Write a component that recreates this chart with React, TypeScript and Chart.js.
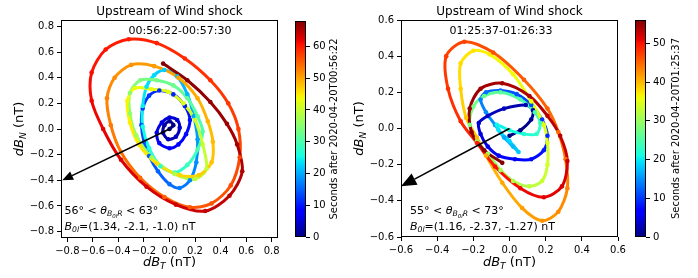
import React, { useEffect, useRef } from 'react';
import { Chart, registerables } from 'chart.js';

Chart.register(...registerables);

const FAMILY = 'DejaVu Sans';

// ---------------- data: left panel (00:56:22-00:57:30) ----------------
const leftTime = [
  0, 0.6, 1.2, 1.8, 2.4, 3.0, 3.6, 4.2, 4.8, 5.4, 6.0, 6.6, 7.2, 7.8, 8.4,
  9.0, 9.6, 10.2, 10.8, 11.4, 12.0, 12.6, 13.2, 13.8, 14.4, 15.0, 15.8,
  16.6, 17.4, 18.2, 19.0, 19.8, 20.6, 21.4, 22.2, 23.0, 23.8, 24.6, 25.4, 26.2, 27.0, 27.8,
  28.6, 29.4, 30.2, 31.0, 31.8, 32.6, 33.4, 34.2, 35.0, 35.8, 36.6, 37.4, 38.2, 39.0,
  39.8, 40.6, 41.2, 41.8, 42.4, 43.0, 43.6, 44.2, 44.8, 45.4, 46.0, 46.6, 47.2,
  47.8, 48.4, 49.0, 49.6, 50.2, 50.8, 51.4, 52.0, 52.6, 53.2, 53.8, 54.4, 55.0, 55.6,
  56.0, 56.5, 57.0, 57.5, 58.0, 58.5, 59.0, 59.5, 60.0, 60.5, 61.0, 61.5, 62.0, 62.5, 63.0, 63.5, 64.0,
  64.6, 65.2, 65.8, 66.4, 67.0, 67.5, 68.0,
];
const leftDBT = [
  0.00, 0.03, 0.00, -0.04, -0.05, -0.01, 0.05, 0.08, 0.06, 0.00, -0.06, -0.10, -0.08, 0.00, 0.07,
  0.13, 0.16, 0.12, 0.03, -0.08, -0.16, -0.21, -0.22, -0.20, -0.16, -0.09, 0.00,
  0.08, 0.16, 0.21, 0.22, 0.19, 0.14, 0.06, -0.04, -0.12, -0.18, -0.21, -0.21, -0.16, -0.07, 0.04,
  0.14, 0.22, 0.26, 0.22, 0.14, 0.03, -0.10, -0.23, -0.31, -0.31, -0.26, -0.14, 0.04, 0.20,
  0.29, 0.26, 0.20, 0.11, -0.01, -0.14, -0.27, -0.33, -0.31, -0.24, -0.10, 0.08, 0.23,
  0.33, 0.34, 0.30, 0.22, 0.07, -0.12, -0.30, -0.43, -0.49, -0.46, -0.38, -0.23, -0.04, 0.16,
  0.33, 0.48, 0.55, 0.54, 0.46, 0.32, 0.12, -0.10, -0.32, -0.50, -0.61, -0.61, -0.52, -0.38, -0.18, 0.05, 0.28,
  0.47, 0.57, 0.53, 0.45, 0.32, 0.14, -0.05,
];
const leftDBN = [
  0.00, 0.03, 0.06, 0.03, -0.03, -0.08, -0.06, 0.01, 0.07, 0.09, 0.05, -0.03, -0.11, -0.15, -0.12,
  -0.04, 0.07, 0.18, 0.27, 0.30, 0.26, 0.16, 0.03, -0.10, -0.21, -0.33, -0.43,
  -0.46, -0.40, -0.26, -0.08, 0.10, 0.27, 0.41, 0.46, 0.42, 0.33, 0.18, 0.02, -0.15, -0.29, -0.34,
  -0.28, -0.16, -0.02, 0.10, 0.24, 0.34, 0.38, 0.38, 0.28, 0.12, -0.05, -0.22, -0.35, -0.39,
  -0.31, -0.12, 0.07, 0.20, 0.29, 0.31, 0.32, 0.22, 0.05, -0.12, -0.27, -0.36, -0.36,
  -0.26, -0.10, 0.06, 0.24, 0.40, 0.49, 0.50, 0.40, 0.24, 0.03, -0.18, -0.38, -0.53, -0.61,
  -0.58, -0.44, -0.22, 0.00, 0.20, 0.38, 0.55, 0.67, 0.70, 0.62, 0.44, 0.22, 0.00, -0.24, -0.45, -0.59, -0.64,
  -0.52, -0.33, -0.12, 0.04, 0.21, 0.38, 0.51,
];
const leftArrowT = [0, -0.84];
const leftArrowN = [0, -0.40];
const leftAxisRange = [-0.85, 0.85];
const leftTicks = [-0.8, -0.6, -0.4, -0.2, 0, 0.2, 0.4, 0.6, 0.8];
const leftColorTicks = [0, 10, 20, 30, 40, 50, 60];
const leftTimeMax = 68;

// ---------------- data: right panel (01:25:37-01:26:33) ----------------
const rightTime = [
  0, 0.6, 1.2, 1.8, 2.4, 3.0, 3.6, 4.2, 4.8,
  5.4, 6.0, 6.8, 7.6, 8.4, 9.2, 10.0, 10.8, 11.6, 12.4, 13.2,
  14.0, 14.8, 15.6, 16.4, 17.2, 18.0,
  18.8, 19.6, 20.4, 21.2, 22.0, 22.8, 23.6, 24.4, 25.2, 26.0, 26.8,
  27.6, 28.4, 29.2, 30.0, 30.8, 31.6, 32.4, 33.2,
  33.8, 34.4, 35.0, 35.6, 36.2, 36.8, 37.4, 38.0, 38.6, 39.2, 39.8, 40.4,
  41.0, 41.6, 42.2, 42.8, 43.4, 44.0, 44.6, 45.2, 45.8, 46.4, 47.0, 47.6, 48.2, 48.8,
  49.4, 50.0, 50.6, 51.2, 51.8, 52.4,
  53.0, 53.4, 53.8, 54.2, 54.6, 55.0, 55.3, 55.6, 56.0,
];
const rightDBT = [
  0.00, 0.06, 0.12, 0.13, 0.09, -0.03, -0.12, -0.17, -0.16,
  -0.12, -0.06, 0.03, 0.12, 0.19, 0.21, 0.18, 0.12, 0.04, -0.05, -0.13,
  -0.16, -0.13, -0.08, -0.03, 0.02, 0.05,
  0.00, -0.06, -0.07, 0.00, 0.08, 0.15, 0.17, 0.14, 0.06, -0.05, -0.14,
  -0.20, -0.22, -0.18, -0.12, -0.05, 0.02, 0.11, 0.18,
  0.21, 0.21, 0.19, 0.12, 0.02, -0.11, -0.20, -0.27, -0.27, -0.24, -0.18, -0.13,
  -0.04, 0.07, 0.18, 0.27, 0.32, 0.31, 0.27, 0.21, 0.08, -0.09, -0.25, -0.35, -0.34, -0.27,
  -0.18, -0.08, 0.06, 0.19, 0.29, 0.32,
  0.28, 0.21, 0.11, -0.04, -0.16, -0.22, -0.21, -0.14, -0.04,
];
const rightDBN = [
  -0.04, -0.01, 0.05, 0.10, 0.13, 0.11, 0.07, 0.03, -0.03,
  -0.10, -0.15, -0.17, -0.17, -0.12, -0.04, 0.05, 0.13, 0.19, 0.21, 0.20,
  0.16, 0.09, 0.02, -0.05, -0.10, -0.13,
  -0.07, -0.01, 0.02, -0.01, -0.03, -0.03, 0.03, 0.09, 0.16, 0.20, 0.18,
  0.12, 0.02, -0.07, -0.14, -0.23, -0.29, -0.32, -0.29,
  -0.20, -0.08, 0.02, 0.15, 0.30, 0.41, 0.43, 0.36, 0.22, 0.06, -0.05, -0.15,
  -0.30, -0.44, -0.51, -0.46, -0.33, -0.17, -0.02, 0.11, 0.27, 0.42, 0.48, 0.40, 0.22, 0.04,
  -0.08, -0.21, -0.33, -0.38, -0.32, -0.18,
  -0.04, 0.07, 0.18, 0.25, 0.22, 0.11, -0.02, -0.12, -0.19,
];
const rightArrowT = [0, -0.6];
const rightArrowN = [0, -0.32];
const rightAxisRange = [-0.6, 0.6];
const rightTicks = [-0.6, -0.4, -0.2, 0, 0.2, 0.4, 0.6];
const rightColorTicks = [0, 10, 20, 30, 40, 50];
const rightTimeMax = 56;

// ---------------- text ----------------
const panelTitle = 'Upstream of Wind shock';
const leftInterval = '00:56:22-00:57:30';
const rightInterval = '01:25:37-01:26:33';
const leftTheta = ['56°', '63°'];
const rightTheta = ['55°', '73°'];
const leftB0 = '=(1.34, -2.1, -1.0) nT';
const rightB0 = '=(1.16, -2.37, -1.27) nT';
const leftStart = 'Seconds after 2020-04-20T00:56:22';
const rightStart = 'Seconds after 2020-04-20T01:25:37';

// ---------------- colormap (matplotlib jet) ----------------
const JET_R = [[0, 0], [0.35, 0], [0.66, 1], [0.89, 1], [1, 0.5]];
const JET_G = [[0, 0], [0.125, 0], [0.375, 1], [0.64, 1], [0.91, 0], [1, 0]];
const JET_B = [[0, 0.5], [0.11, 1], [0.34, 1], [0.65, 0], [1, 0]];
function interp(pts: number[][], v: number) {
  for (let i = 1; i < pts.length; i++) {
    if (v <= pts[i][0]) {
      const [x0, y0] = pts[i - 1];
      const [x1, y1] = pts[i];
      return y0 + ((y1 - y0) * (v - x0)) / (x1 - x0);
    }
  }
  return pts[pts.length - 1][1];
}
function jet(v: number) {
  const c = Math.min(1, Math.max(0, v));
  const r = Math.round(255 * interp(JET_R, c));
  const g = Math.round(255 * interp(JET_G, c));
  const b = Math.round(255 * interp(JET_B, c));
  return `rgb(${r},${g},${b})`;
}

// ---------------- text helpers ----------------
type Run = { t: string; size: number; italic?: boolean; dy?: number };
const fontOf = (r: Run) => `${r.italic ? 'italic ' : ''}${r.size}px '${FAMILY}'`;
function drawRuns(ctx: CanvasRenderingContext2D, runs: Run[], x: number, y: number, align: 'left' | 'center') {
  let total = 0;
  for (const r of runs) {
    ctx.font = fontOf(r);
    total += ctx.measureText(r.t).width;
  }
  let cx = align === 'center' ? x - total / 2 : x;
  ctx.textAlign = 'left';
  ctx.textBaseline = 'alphabetic';
  ctx.fillStyle = '#000';
  for (const r of runs) {
    ctx.font = fontOf(r);
    ctx.fillText(r.t, cx, y + (r.dy || 0));
    cx += ctx.measureText(r.t).width;
  }
}

const fmtTick = (v: number) => Number(v).toFixed(1).replace('-', '\u2212');

interface PanelSpec {
  left: number;
  t: number[];
  x: number[];
  y: number[];
  tMax: number;
  arrowX: number[];
  arrowY: number[];
  range: number[];
  ticks: number[];
  yAxisW: number;
  xAxisH: number;
  padRight: number;
  interval: string;
  intervalX: number;
  theta: string[];
  b0: string;
  annotX: number;
  yLabelX: number;
}

function axisOptions(range: number[], ticks: number[], isX: boolean, size: number) {
  return {
    type: 'linear',
    position: isX ? 'bottom' : 'left',
    min: range[0],
    max: range[1],
    grid: { display: true, drawOnChartArea: false, drawTicks: true, tickLength: 4, color: '#000', lineWidth: 1 },
    border: { display: false },
    ticks: {
      color: '#000',
      font: { family: FAMILY, size: 10 },
      padding: 3,
      autoSkip: false,
      maxRotation: 0,
      minRotation: 0,
      includeBounds: false,
      callback: (v: number) => fmtTick(v),
    },
    afterBuildTicks: (s: any) => {
      s.ticks = ticks.map((v) => ({ value: v }));
    },
    afterFit: (s: any) => {
      if (isX) s.height = size;
      else s.width = size;
    },
  };
}

function makePanel(canvas: HTMLCanvasElement, p: PanelSpec) {
  const colors = p.t.map((t) => jet(t / p.tMax));
  const points = p.x.map((x, i) => ({ x, y: p.y[i] }));
  const decor = {
    id: 'decor',
    afterDatasetsDraw(chart: any) {
      const { ctx, chartArea: a, scales } = chart;
      const sx = scales.x;
      const sy = scales.y;
      const x0 = sx.getPixelForValue(p.arrowX[0]);
      const y0 = sy.getPixelForValue(p.arrowY[0]);
      const x1 = sx.getPixelForValue(p.arrowX[1]);
      const y1 = sy.getPixelForValue(p.arrowY[1]);
      const unit = sx.getPixelForValue(1) - sx.getPixelForValue(0);
      const dx = x1 - x0;
      const dy = y1 - y0;
      const L = Math.hypot(dx, dy);
      const ux = dx / L;
      const uy = dy / L;
      const headLen = 0.085 * unit;
      const headW = 0.07 * unit;
      const bx = x1 - ux * headLen;
      const by = y1 - uy * headLen;
      ctx.save();
      ctx.beginPath();
      ctx.rect(a.left, a.top, a.width, a.height);
      ctx.clip();
      ctx.strokeStyle = '#000';
      ctx.lineWidth = 1.6;
      ctx.beginPath();
      ctx.moveTo(x0, y0);
      ctx.lineTo(bx, by);
      ctx.stroke();
      ctx.fillStyle = '#000';
      ctx.beginPath();
      ctx.moveTo(x1, y1);
      ctx.lineTo(bx - (uy * headW) / 2, by + (ux * headW) / 2);
      ctx.lineTo(bx + (uy * headW) / 2, by - (ux * headW) / 2);
      ctx.closePath();
      ctx.fill();
      ctx.restore();
    },
    afterDraw(chart: any) {
      const { ctx, chartArea: a } = chart;
      ctx.save();
      ctx.strokeStyle = '#000';
      ctx.lineWidth = 1;
      ctx.strokeRect(Math.round(a.left) + 0.5, Math.round(a.top) + 0.5, Math.round(a.width) - 1, Math.round(a.height) - 1);
      const cxm = (a.left + a.right) / 2;
      const cym = (a.top + a.bottom) / 2;
      drawRuns(ctx, [{ t: panelTitle, size: 12 }], cxm, 15, 'center');
      drawRuns(ctx, [{ t: p.interval, size: 11 }], p.intervalX - p.left, 34, 'center');
      drawRuns(
        ctx,
        [
          { t: `${p.theta[0]} < `, size: 11 },
          { t: 'θ', size: 11, italic: true },
          { t: 'B', size: 7.7, italic: true, dy: 2.4 },
          { t: '0l', size: 5.4, italic: true, dy: 4.2 },
          { t: 'R', size: 7.7, italic: true, dy: 2.4 },
          { t: ` < ${p.theta[1]}`, size: 11 },
        ],
        p.annotX - p.left,
        214,
        'left'
      );
      drawRuns(
        ctx,
        [
          { t: 'B', size: 11, italic: true },
          { t: '0l', size: 7.7, italic: true, dy: 2.4 },
          { t: p.b0, size: 11 },
        ],
        p.annotX - p.left,
        229.5,
        'left'
      );
      drawRuns(
        ctx,
        [
          { t: 'dB', size: 13, italic: true },
          { t: 'T', size: 9.1, italic: true, dy: 2.8 },
          { t: ' (nT)', size: 13 },
        ],
        cxm,
        266,
        'center'
      );
      ctx.translate(p.yLabelX - p.left, cym);
      ctx.rotate(-Math.PI / 2);
      drawRuns(
        ctx,
        [
          { t: 'dB', size: 13, italic: true },
          { t: 'N', size: 9.1, italic: true, dy: 2.8 },
          { t: ' (nT)', size: 13 },
        ],
        0,
        0,
        'center'
      );
      ctx.restore();
    },
  };
  return new Chart(canvas, {
    type: 'scatter',
    data: {
      datasets: [
        {
          data: points,
          showLine: true,
          borderWidth: 3,
          tension: 0.3,
          borderColor: colors[0],
          segment: { borderColor: (ctx: any) => colors[ctx.p0DataIndex] },
          pointRadius: 2.3,
          pointBorderWidth: 0,
          pointBackgroundColor: colors,
          pointHoverRadius: 2.3,
        } as any,
      ],
    },
    options: {
      animation: false,
      responsive: false,
      events: [],
      layout: { padding: { top: 20, right: p.padRight, left: 0, bottom: 0 } },
      plugins: { legend: { display: false }, tooltip: { enabled: false }, title: { display: false } },
      scales: {
        x: axisOptions(p.range, p.ticks, true, p.xAxisH) as any,
        y: axisOptions(p.range, p.ticks, false, p.yAxisW) as any,
      },
    },
    plugins: [decor],
  });
}

interface BarSpec {
  left: number;
  max: number;
  ticks: number[];
  label: string;
  labelX: number;
  padTop: number;
  padBottom: number;
  axisW: number;
}

function makeColorbar(canvas: HTMLCanvasElement, b: BarSpec) {
  const plugin = {
    id: 'cbar',
    beforeDatasetsDraw(chart: any) {
      const { ctx, chartArea: a } = chart;
      const grad = ctx.createLinearGradient(0, a.bottom, 0, a.top);
      const n = 64;
      for (let i = 0; i <= n; i++) grad.addColorStop(i / n, jet(i / n));
      ctx.save();
      ctx.fillStyle = grad;
      ctx.fillRect(a.left, a.top, a.width, a.height);
      ctx.restore();
    },
    afterDraw(chart: any) {
      const { ctx, chartArea: a } = chart;
      ctx.save();
      ctx.strokeStyle = '#000';
      ctx.lineWidth = 1;
      ctx.strokeRect(Math.round(a.left) + 0.5, Math.round(a.top) + 0.5, Math.round(a.width) - 1, Math.round(a.height) - 1);
      ctx.translate(b.labelX - b.left, (a.top + a.bottom) / 2);
      ctx.rotate(-Math.PI / 2);
      drawRuns(ctx, [{ t: b.label, size: 10 }], 0, 0, 'center');
      ctx.restore();
    },
  };
  return new Chart(canvas, {
    type: 'scatter',
    data: { datasets: [] },
    options: {
      animation: false,
      responsive: false,
      events: [],
      layout: { padding: { top: b.padTop, bottom: b.padBottom, left: 5, right: 0 } },
      plugins: { legend: { display: false }, tooltip: { enabled: false } },
      scales: {
        x: { display: false, min: 0, max: 1 },
        y: {
          type: 'linear',
          position: 'right',
          min: 0,
          max: b.max,
          grid: { display: true, drawOnChartArea: false, drawTicks: true, tickLength: 4, color: '#000', lineWidth: 1 },
          border: { display: false },
          ticks: {
            color: '#000',
            font: { family: FAMILY, size: 10 },
            padding: 3,
            autoSkip: false,
            includeBounds: false,
            callback: (v: number) => String(v),
          },
          afterBuildTicks: (s: any) => {
            s.ticks = b.ticks.map((v) => ({ value: v }));
          },
          afterFit: (s: any) => {
            s.width = b.axisW;
          },
        } as any,
      },
    },
    plugins: [plugin],
  });
}

export default function App() {
  const leftRef = useRef<HTMLCanvasElement>(null);
  const leftBarRef = useRef<HTMLCanvasElement>(null);
  const rightRef = useRef<HTMLCanvasElement>(null);
  const rightBarRef = useRef<HTMLCanvasElement>(null);

  useEffect(() => {
    document.body.style.margin = '0';
    const charts = [
      makePanel(leftRef.current!, {
        left: 0,
        t: leftTime,
        x: leftDBT,
        y: leftDBN,
        tMax: leftTimeMax,
        arrowX: leftArrowT,
        arrowY: leftArrowN,
        range: leftAxisRange,
        ticks: leftTicks,
        yAxisW: 61,
        xAxisH: 40,
        padRight: 12,
        interval: leftInterval,
        intervalX: 180,
        theta: leftTheta,
        b0: leftB0,
        annotX: 64.5,
        yLabelX: 23,
      }),
      makeColorbar(leftBarRef.current!, {
        left: 290,
        max: leftTimeMax,
        ticks: leftColorTicks,
        label: leftStart,
        labelX: 337,
        padTop: 21,
        padBottom: 41,
        axisW: 42,
      }),
      makePanel(rightRef.current!, {
        left: 348,
        t: rightTime,
        x: rightDBT,
        y: rightDBN,
        tMax: rightTimeMax,
        arrowX: rightArrowT,
        arrowY: rightArrowN,
        range: rightAxisRange,
        ticks: rightTicks,
        yAxisW: 53,
        xAxisH: 41,
        padRight: 12,
        interval: rightInterval,
        intervalX: 501,
        theta: rightTheta,
        b0: rightB0,
        annotX: 410,
        yLabelX: 363,
      }),
      makeColorbar(rightBarRef.current!, {
        left: 630,
        max: rightTimeMax,
        ticks: rightColorTicks,
        label: rightStart,
        labelX: 679,
        padTop: 20,
        padBottom: 41,
        axisW: 52,
      }),
    ];
    return () => charts.forEach((c) => c.destroy());
  }, []);

  const abs = (left: number): React.CSSProperties => ({ position: 'absolute', left, top: 0, display: 'block' });
  return (
    <div style={{ position: 'relative', width: 698, height: 278, background: '#fff', overflow: 'hidden' }}>
      <canvas ref={leftRef} width={290} height={278} style={abs(0)} />
      <canvas ref={leftBarRef} width={58} height={278} style={abs(290)} />
      <canvas ref={rightRef} width={282} height={278} style={abs(348)} />
      <canvas ref={rightBarRef} width={68} height={278} style={abs(630)} />
    </div>
  );
}
